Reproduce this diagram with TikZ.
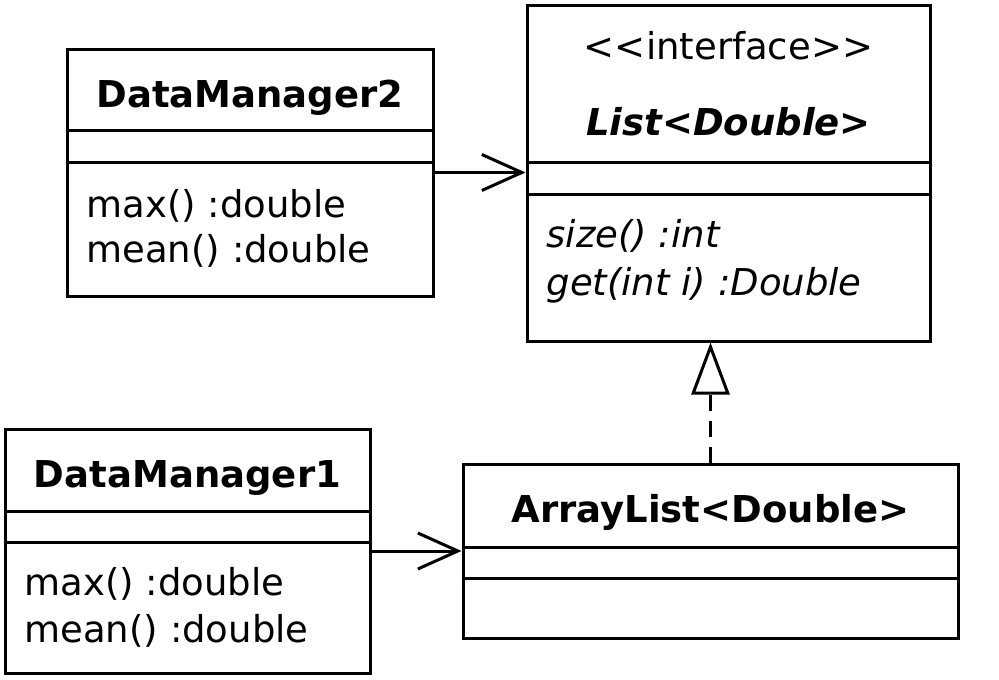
\documentclass[tikz,border=0pt]{standalone}
\usepackage{fontspec}
\setmainfont{DejaVu Sans}
\usetikzlibrary{arrows.meta}

\begin{document}
\begin{tikzpicture}[x=1pt,y=-1pt,line width=3pt]
		\tikzstyle{umlclass}=[rectangle,draw=black,inner sep=0pt]
		\tikzstyle{classname}=[font=\fontsize{37}{44}\selectfont\bfseries,anchor=base,inner sep=0pt]
		\tikzstyle{member}=[font=\fontsize{37}{44}\selectfont,anchor=base west,inner sep=0pt]
		\tikzstyle{uses}=[-{Straight Barb[length=40pt,width=36pt]}]
		\tikzstyle{realizes}=[dash pattern=on 16pt off 10pt,-{Triangle[open,length=52pt,width=38pt]}]

		\useasboundingbox (0,0) rectangle (999,680);

			% Draw the class boxes
		\node[umlclass,minimum width=366pt,minimum height=247pt] (DM2) at (250,172.5) {};
		\node[umlclass,minimum width=403pt,minimum height=336pt] (L) at (728.5,173) {};
		\node[umlclass,minimum width=365pt,minimum height=244pt] (DM1) at (187.5,551) {};
		\node[umlclass,minimum width=495pt,minimum height=174pt] (AL) at (710.5,551) {};

			% Draw the compartment lines
		\foreach \cls / \y in {DM2/130,DM2/162,L/162,L/194,DM1/511,DM1/542,AL/547,AL/578}
		\draw (\cls.west |- 0,\y) -- (\cls.east |- 0,\y);

			% Names of the classes
		\node[classname] (DM2-name) at (250,107) {DataManager2};
		\node[classname,font=\fontsize{37}{44}\selectfont] (L-stereo) at (728.5,59) {{<}{<}interface{>}{>}};
		\node[classname,font=\fontsize{37}{44}\selectfont\bfseries\itshape] (L-name) at (728.5,135) {List<Double>};
		\node[classname] (DM1-name) at (187.5,487) {DataManager1};
		\node[classname] (AL-name) at (710.5,522) {ArrayList<Double>};

			% Operations
		\node[member] (DM2-op1) at (85,217) {max() :double};
		\node[member] (DM2-op2) at (85,262) {mean() :double};
		\node[member,font=\fontsize{37}{44}\selectfont\itshape] (L-op1) at (545,247) {size() :int};
		\node[member,font=\fontsize{37}{44}\selectfont\itshape] (L-op2) at (545,295) {get(int i) :Double};
		\node[member] (DM1-op1) at (23,595) {max() :double};
		\node[member] (DM1-op2) at (23,642) {mean() :double};

			% Connect the classes
		\draw[uses] (DM2.east) -- (DM2.east -| L.west);
		\draw[uses] (DM1.east) -- (DM1.east -| AL.west);
		\draw[realizes] (AL.north) -- (AL.north |- L.south);
		\end{tikzpicture}
\end{document}
